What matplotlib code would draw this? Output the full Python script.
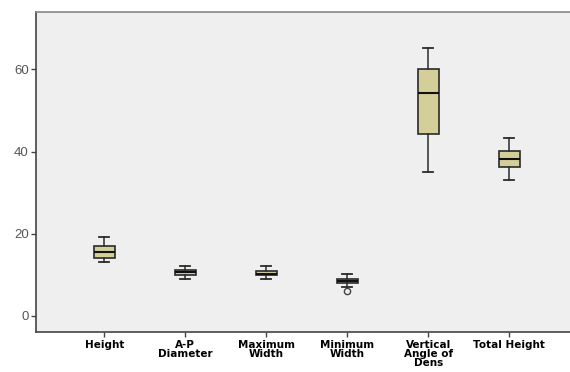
import matplotlib
matplotlib.use("Agg")
import matplotlib.pyplot as plt

categories = ["Height", "A-P\nDiameter", "Maximum\nWidth", "Minimum\nWidth", "Vertical\nAngle of\nDens", "Total Height"]
whislo = [13.1, 9.0, 9.0, 7.1, 35.1, 33.2]
q1 = [14.1, 10.0, 9.9, 8.0, 44.2, 36.2]
med = [15.6, 10.7, 10.2, 8.6, 54.3, 38.2]
q3 = [17.1, 11.2, 11.0, 9.0, 60.2, 40.2]
whishi = [19.2, 12.1, 12.1, 10.2, 65.3, 43.2]
fliers = [[], [], [], [6.1], [], []]
yticks = [0, 20, 40, 60]

plt.rcParams['font.family'] = ['Liberation Sans', 'DejaVu Sans']
fig = plt.figure(figsize=(5.70, 3.72), dpi=100)
ax = fig.add_axes([0.064, 0.1075, 0.94, 0.8615])
ax.set_facecolor('#efefef')

stats = []
for i in range(len(categories)):
    stats.append(dict(label=categories[i], whislo=whislo[i], q1=q1[i], med=med[i],
                      q3=q3[i], whishi=whishi[i], fliers=fliers[i]))
positions = list(range(1, len(categories) + 1))
ax.bxp(stats, positions=positions, widths=0.26, patch_artist=True,
       boxprops=dict(facecolor='#d4cf98', edgecolor='#2a2a2a', linewidth=1.2),
       medianprops=dict(color='#111111', linewidth=1.5),
       whiskerprops=dict(color='#2a2a2a', linewidth=1.1),
       capprops=dict(color='#2a2a2a', linewidth=1.3),
       capwidths=0.124,
       flierprops=dict(marker='o', markerfacecolor='none', markeredgecolor='#444444',
                       markersize=4.5, markeredgewidth=1.0))

ax.set_xlim(0.163, 6.78)
ax.set_ylim(-3.9, 74.1)
ax.set_yticks(yticks)
ax.set_yticklabels([str(v) for v in yticks], color='#555555', fontsize=9.5)
ax.set_xticks(positions)
ax.set_xticklabels(categories, fontsize=7.5, fontweight='bold', color='black',
                   linespacing=0.9, family=['DejaVu Sans'])
ax.tick_params(axis='both', direction='out', length=3.5, color='#444444', width=1)
ax.tick_params(axis='x', pad=2)
ax.tick_params(axis='y', pad=2)

ax.spines['right'].set_visible(False)
ax.spines['left'].set_color('#444444')
ax.spines['bottom'].set_color('#444444')
ax.spines['top'].set_color('#888888')
for s in ['left', 'bottom', 'top']:
    ax.spines[s].set_linewidth(1.2)

fig.savefig('out.png', dpi=100, facecolor='white')
